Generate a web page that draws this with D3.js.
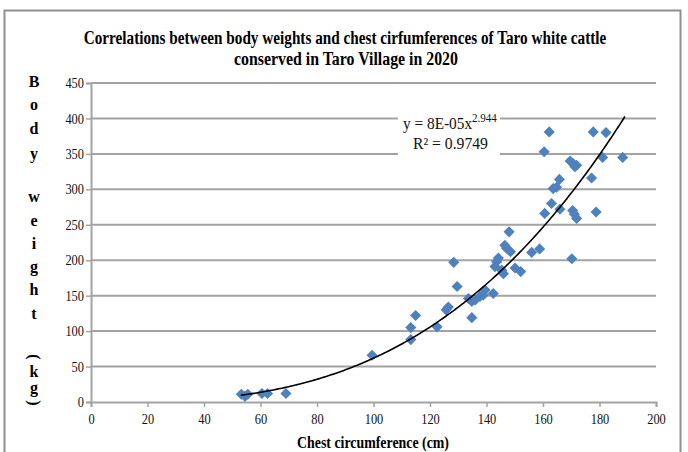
<!DOCTYPE html>
<html>
<head>
<meta charset="utf-8">
<script src="https://cdn.jsdelivr.net/npm/d3@7"></script>
<style>
  html, body { margin: 0; padding: 0; background: #fff; }
  svg { display: block; font-family: "Liberation Serif", "Times New Roman", serif; }
</style>
</head>
<body>
<svg id="chart" width="688" height="452"></svg>
<script>
// chest circumference (cm) vs body weight (kg)
const chest = [
  53.2, 54.5, 55.5, 60.5, 62.5, 69,
  99.5, 113.2, 113.2, 114.9, 122.5, 125.7, 126.5, 128.4, 129.6,
  133.6, 134.8, 134.8, 136, 137.7, 138.9, 139.5, 142.4,
  143, 143.6, 144.2, 145.4, 146, 146.5, 147.1, 148, 148.5,
  150.1, 152.1, 156, 158.8, 170.2,
  160.6, 163, 163.6, 164.8, 165.8, 166, 160.4, 162.2,
  169.6, 170.7, 171.3, 171.9, 170.5, 171.1, 171.9,
  177.2, 177.8, 178.8, 181.1, 182.3, 188.2
];
const weight = [
  11, 8, 11, 12, 12, 12,
  66, 88, 105, 122, 106, 130, 134, 197, 163,
  146, 142, 119, 144, 149, 151, 158, 153,
  191, 198, 203, 186, 181, 221, 217, 240, 212,
  189, 184, 211, 216, 202,
  266, 280, 301, 303, 314, 272, 353, 381,
  340, 336, 332, 334, 270, 265, 259,
  316, 381, 268, 345, 380, 345
];
const xTicks = [0, 20, 40, 60, 80, 100, 120, 140, 160, 180, 200];
const yTicks = [0, 50, 100, 150, 200, 250, 300, 350, 400, 450];
const yLabelChars = ["B", "o", "d", "y", "w", "e", "i", "g", "h", "t", "(", "k", "g", ")"];
const yLabelPos = [82, 105, 129, 154, 197, 221, 244, 267, 290, 314, 357, 372, 388, 403];
// power trendline y = a * x^b
const trendA = 8e-5, trendB = 2.944;
const trendFrom = 53, trendTo = 189;

const svg = d3.select("#chart");
const grid = "#a3a3a3";
const blue = "#4f81bd";

const x = d3.scaleLinear().domain([0, 200]).range([91, 656]);
const y = d3.scaleLinear().domain([0, 450]).range([402, 83]);

// squeeze a text horizontally so it spans `w` px, anchored at (ax, ay)
function fitText(sel, ax, ay, w, anchor) {
  sel.attr("x", 0).attr("y", 0).attr("text-anchor", anchor || "middle");
  const nat = sel.node().getComputedTextLength();
  const k = Math.min(1, w / nat);
  sel.attr("transform", `translate(${ax},${ay}) scale(${k},1)`);
  return sel;
}

// outer frame
svg.append("rect")
  .attr("x", 4.5).attr("y", 10.5).attr("width", 676).attr("height", 460)
  .attr("fill", "#fff").attr("stroke", "#8f8f8f").attr("stroke-width", 2);

// title
fitText(svg.append("text").attr("font-size", 19.5).attr("font-weight", "bold")
  .text("Correlations between body weights and chest cirfumferences of Taro white cattle"), 345, 44, 523);
fitText(svg.append("text").attr("font-size", 19.5).attr("font-weight", "bold")
  .text("conserved in Taro Village in 2020"), 346, 65, 224);

// horizontal gridlines
svg.append("g").selectAll("line").data(yTicks.filter(d => d > 0)).join("line")
  .attr("x1", x(0)).attr("x2", x(200))
  .attr("y1", d => y(d)).attr("y2", d => y(d))
  .attr("stroke", grid).attr("stroke-width", 2);

// y axis
const yAxis = svg.append("g").attr("transform", `translate(${x(0)},0)`)
  .call(d3.axisLeft(y).tickValues(yTicks).tickSize(5).tickPadding(6));
// x axis
const xAxis = svg.append("g").attr("transform", `translate(0,${y(0)})`)
  .call(d3.axisBottom(x).tickValues(xTicks).tickSize(5).tickPadding(8));
[xAxis, yAxis].forEach(a => {
  a.select(".domain").attr("stroke", grid).attr("stroke-width", 2);
  a.selectAll(".tick line").attr("stroke", grid).attr("stroke-width", 1.5);
  a.selectAll(".tick text").attr("fill", "#111").attr("font-size", 14.5)
    .attr("font-family", "Liberation Serif, serif");
});
// narrow the tick digits like the original
yAxis.selectAll(".tick text").each(function () {
  const t = d3.select(this);
  fitText(t.attr("dy", "0.32em"), -7, 0, t.text().length * 6.2, "end");
});
xAxis.selectAll(".tick text").each(function () {
  const t = d3.select(this);
  fitText(t.attr("dy", "0.71em"), 0, 12, t.text().length * 6.2, "middle");
});

// equation box
svg.append("rect").attr("x", 398).attr("y", 110).attr("width", 102).attr("height", 50).attr("fill", "#fff");
const eq = svg.append("text").attr("font-size", 16).attr("fill", "#111");
eq.append("tspan").text("y = 8E-05x");
eq.append("tspan").attr("dy", -7).attr("font-size", 11.5).text("2.944");
fitText(eq, 403, 129, 94, "start");
fitText(svg.append("text").attr("font-size", 16).attr("fill", "#111")
  .text("R\u00b2 = 0.9749"), 413, 149, 75, "start");

// points
const pts = chest.map((c, i) => ({ c, w: weight[i] }));
svg.append("g").selectAll("path").data(pts).join("path")
  .attr("d", d3.symbol(d3.symbolSquare, 62))
  .attr("transform", d => `translate(${x(d.c)},${y(d.w)}) rotate(45)`)
  .attr("fill", blue);

// trendline
const tx = d3.range(trendFrom, trendTo + 0.01, 0.5);
svg.append("path")
  .datum(tx)
  .attr("fill", "none").attr("stroke", "#000").attr("stroke-width", 1.6)
  .attr("d", d3.line().x(d => x(d)).y(d => y(trendA * Math.pow(d, trendB))));

// x axis title
fitText(svg.append("text").attr("font-size", 17.5).attr("font-weight", "bold")
  .text("Chest circumference (cm)"), 373, 448, 152);

// stacked y axis title
svg.append("g").selectAll("text").data(yLabelChars).join("text")
  .attr("text-anchor", "middle").attr("font-size", 16).attr("font-weight", "bold")
  .attr("transform", (d, i) => {
    const py = yLabelPos[i];
    return (d === "(" || d === ")") ? `translate(34,${py}) rotate(90)` : `translate(34,${py + 5})`;
  })
  .attr("dy", d => (d === "(" || d === ")") ? "0.32em" : 0)
  .text(d => d);
</script>
</body>
</html>
